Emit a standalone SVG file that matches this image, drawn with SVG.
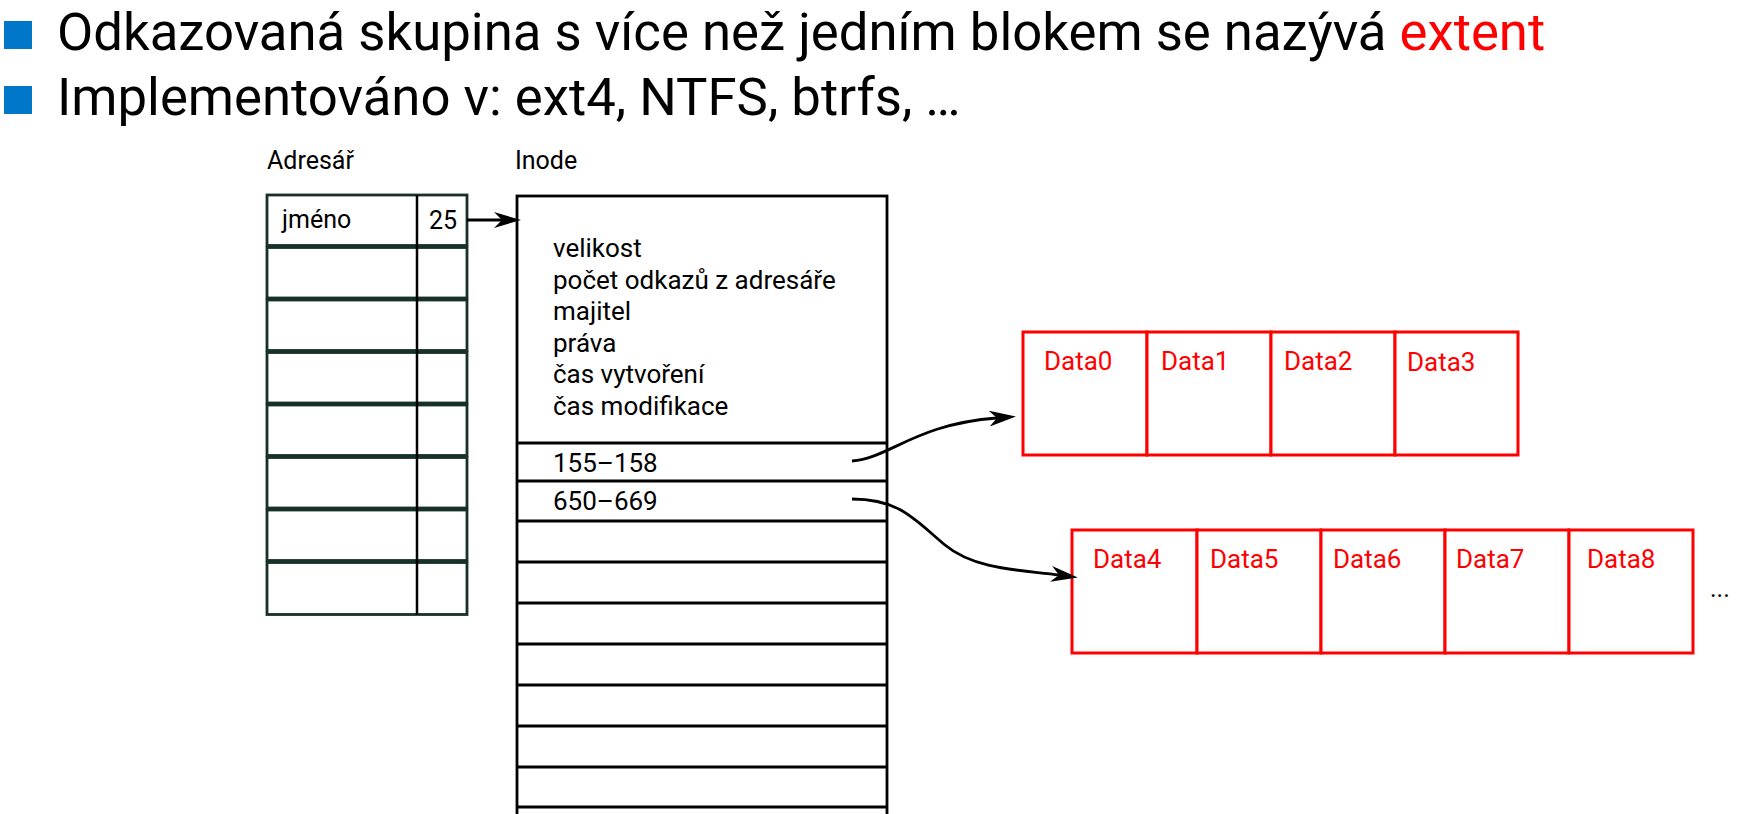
<svg xmlns="http://www.w3.org/2000/svg" width="1762" height="814" viewBox="0 0 1762 814">
  <style>
    text { font-family: Roboto, "Liberation Sans", sans-serif; }
    .title { font-size: 52.7px; fill: #000; }
    .cap { font-size: 25px; fill: #000; }
    .lbl { font-size: 26px; fill: #000; }
    .red { fill: #ff0000; }
    .bullet { fill: #0077c8; }
    .dirrow { fill: #fff; stroke: #17302a; stroke-width: 2.8; }
    .dircol { stroke: #000; stroke-width: 2.5; }
    .ino { fill: #fff; stroke: #000; stroke-width: 2.8; }
    .inoline { stroke: #000; stroke-width: 2.8; }
    .blk { fill: #fff; stroke: #ff0000; stroke-width: 3; }
    .edge { fill: none; stroke: #000; stroke-width: 2.8; }
  </style>
  <defs>
    <marker id="arrow" markerUnits="userSpaceOnUse" markerWidth="27" markerHeight="16" viewBox="0 0 27 16" refX="8" refY="8" orient="auto">
      <path d="M0,0 L27,8 L0,16 L8,8 Z" fill="#000"/>
    </marker>
  </defs>

  <rect width="1762" height="814" fill="#fff"/>

  <!-- bullet list -->
  <g id="header">
    <rect class="bullet" x="4" y="21" width="28" height="28"/>
    <text class="title" x="57" y="50">Odkazovaná skupina s více než jedním blokem se nazývá <tspan class="red">extent</tspan></text>
    <rect class="bullet" x="4" y="86" width="28" height="28"/>
    <text class="title" x="57" y="115">Implementováno v: ext4, NTFS, btrfs, …</text>
  </g>

  <!-- directory table -->
  <g id="node-dir">
    <text class="cap" x="267" y="169">Adresář</text>
    <rect class="dirrow" x="267" y="195" width="200" height="50.5"/>
    <rect class="dirrow" x="267" y="247.5" width="200" height="50.5"/>
    <rect class="dirrow" x="267" y="300" width="200" height="50.5"/>
    <rect class="dirrow" x="267" y="352.5" width="200" height="50.5"/>
    <rect class="dirrow" x="267" y="405" width="200" height="50.5"/>
    <rect class="dirrow" x="267" y="457.5" width="200" height="50.5"/>
    <rect class="dirrow" x="267" y="510" width="200" height="50.5"/>
    <rect class="dirrow" x="267" y="562.5" width="200" height="52"/>
    <line class="dircol" x1="417" y1="195" x2="417" y2="614.5"/>
    <text class="cap" x="282" y="228">jméno</text>
    <text class="cap" x="429" y="229">25</text>
  </g>

  <!-- inode -->
  <g id="node-inode">
    <text class="cap" x="515" y="169">Inode</text>
    <rect class="ino" x="517" y="196" width="370" height="640"/>
    <line class="inoline" x1="517" y1="443" x2="887" y2="443"/>
    <line class="inoline" x1="517" y1="481" x2="887" y2="481"/>
    <line class="inoline" x1="517" y1="521" x2="887" y2="521"/>
    <line class="inoline" x1="517" y1="562" x2="887" y2="562"/>
    <line class="inoline" x1="517" y1="603" x2="887" y2="603"/>
    <line class="inoline" x1="517" y1="644" x2="887" y2="644"/>
    <line class="inoline" x1="517" y1="685" x2="887" y2="685"/>
    <line class="inoline" x1="517" y1="726" x2="887" y2="726"/>
    <line class="inoline" x1="517" y1="767" x2="887" y2="767"/>
    <line class="inoline" x1="517" y1="807" x2="887" y2="807"/>
    <text class="lbl" x="553" y="257">velikost</text>
    <text class="lbl" x="553" y="288.6">počet odkazů z adresáře</text>
    <text class="lbl" x="553" y="320.2">majitel</text>
    <text class="lbl" x="553" y="351.8">práva</text>
    <text class="lbl" x="553" y="383.4">čas vytvoření</text>
    <text class="lbl" x="553" y="415">čas modifikace</text>
    <text class="lbl" x="553" y="472">155–158</text>
    <text class="lbl" x="553" y="510">650–669</text>
  </g>

  <!-- first extent: blocks 155-158 -->
  <g id="node-extent-a">
    <rect class="blk" x="1023" y="332" width="124" height="123"/>
    <rect class="blk" x="1147" y="332" width="124" height="123"/>
    <rect class="blk" x="1271" y="332" width="124" height="123"/>
    <rect class="blk" x="1395" y="332" width="123" height="123"/>
    <text class="lbl red" x="1044" y="370">Data0</text>
    <text class="lbl red" x="1161" y="370">Data1</text>
    <text class="lbl red" x="1284" y="370">Data2</text>
    <text class="lbl red" x="1407" y="371">Data3</text>
  </g>

  <!-- second extent: blocks 650-669 -->
  <g id="node-extent-b">
    <rect class="blk" x="1072" y="530" width="125" height="123"/>
    <rect class="blk" x="1197" y="530" width="124" height="123"/>
    <rect class="blk" x="1321" y="530" width="124" height="123"/>
    <rect class="blk" x="1445" y="530" width="124" height="123"/>
    <rect class="blk" x="1569" y="530" width="124" height="123"/>
    <text class="lbl red" x="1093" y="568">Data4</text>
    <text class="lbl red" x="1210" y="568">Data5</text>
    <text class="lbl red" x="1333" y="568">Data6</text>
    <text class="lbl red" x="1456" y="568">Data7</text>
    <text class="lbl red" x="1587" y="568">Data8</text>
    <text class="cap" x="1710" y="597">...</text>
  </g>

  <!-- connectors -->
  <g id="connectors">
    <path class="edge" d="M467,220 L502,220" marker-end="url(#arrow)"/>
    <path class="edge" d="M852,461 C890,458 915,424 997,418" marker-end="url(#arrow)"/>
    <path class="edge" d="M852,499 C900,499 915,520 945,545 S1022,570 1059,575" marker-end="url(#arrow)"/>
  </g>
</svg>
